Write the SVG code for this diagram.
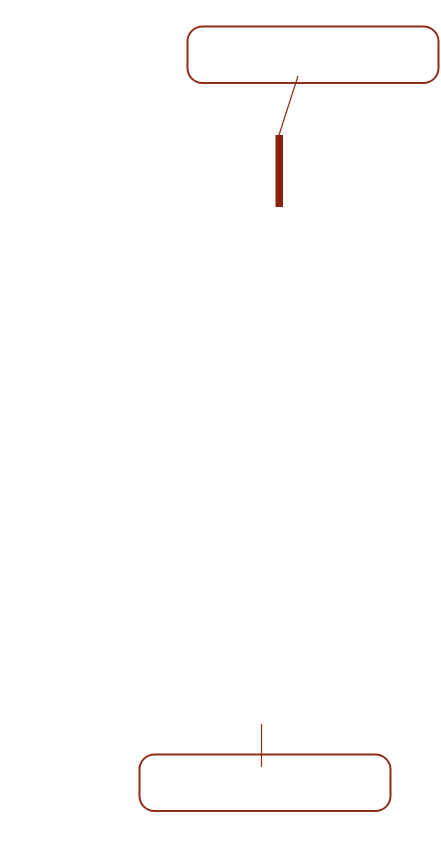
<svg xmlns="http://www.w3.org/2000/svg" width="441" height="846" viewBox="0 0 441 846">
<style>
.node{fill:#fff;stroke:#8f2d17;stroke-width:2}
.conn{stroke:#8f2d17;stroke-width:1.2;fill:none}
</style>
<rect width="441" height="846" fill="#fff"/>
<g id="node-top"><rect class="node" x="187.5" y="26.5" width="251" height="56.5" rx="15"/></g>
<g id="node-bar"><rect x="275.5" y="135" width="7.5" height="72" fill="#8b2210"/></g>
<g id="node-bottom"><rect class="node" x="139.5" y="754.5" width="251" height="56.5" rx="15"/></g>
<g id="connectors">
<line class="conn" x1="298" y1="76" x2="279" y2="135"/>
<line class="conn" x1="261.5" y1="724" x2="261.5" y2="767"/>
</g>
</svg>
